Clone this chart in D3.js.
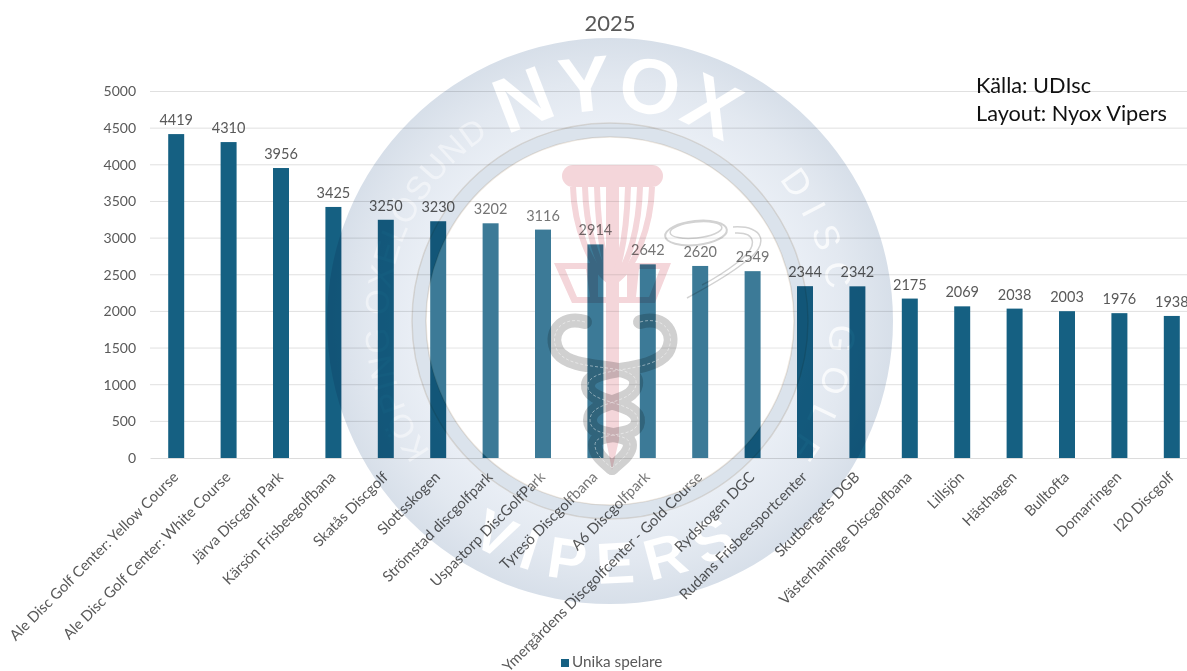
<!DOCTYPE html>
<html><head><meta charset="utf-8">
<script src="https://cdn.jsdelivr.net/npm/d3@7/dist/d3.min.js"></script>
<style>html,body{margin:0;background:#fff;overflow:hidden}svg{display:block}text{font-family:Lato,"Open Sans",sans-serif}</style>
</head><body><svg id="c" width="1187" height="671"></svg>
<script>
const categories=["Ale Disc Golf Center: Yellow Course","Ale Disc Golf Center: White Course","Järva Discgolf Park","Kärsön Frisbeegolfbana","Skatås Discgolf","Slottsskogen","Strömstad discgolfpark","Uspastorp DiscGolfPark","Tyresö Discgolfbana","A6 Discgolfpark","Ymergårdens Discgolfcenter - Gold Course","Rydskogen DGC","Rudans Frisbeesportcenter","Skutbergets DGB","Västerhaninge Discgolfbana","Lillsjön","Hästhagen","Bulltofta","Domarringen","I20 Discgolf"];
const uniquePlayers=[4419,4310,3956,3425,3250,3230,3202,3116,2914,2642,2620,2549,2344,2342,2175,2069,2038,2003,1976,1938];
const yTicks=[0,500,1000,1500,2000,2500,3000,3500,4000,4500,5000];
const seriesName="Unika spelare", chartTitle="2025", notes=["Källa: UDIsc","Layout: Nyox Vipers"];

const svg=d3.select("#c");
const x=d3.scaleBand().domain(categories).range([150,1198]).paddingInner(0.695).paddingOuter(0.3475);
const y=d3.scaleLinear().domain([0,5000]).range([458,91.5]);
const grey="#595959";

svg.append("g").selectAll("line").data(yTicks.slice(1)).join("line")
 .attr("x1",150).attr("x2",1187).attr("y1",d=>y(d)).attr("y2",d=>y(d)).attr("stroke","#e0e0e0");
const ya=svg.append("g").attr("transform","translate(150,0)").call(d3.axisLeft(y).tickValues(yTicks).tickSize(0).tickPadding(14).tickFormat(d3.format("d")));
ya.select(".domain").remove();
ya.selectAll("text").attr("fill",grey).style("font-size","14px").style("font-family","Lato");

svg.append("g").selectAll("rect").data(uniquePlayers).join("rect")
 .attr("x",(d,i)=>x(categories[i])).attr("width",x.bandwidth())
 .attr("y",d=>y(d)).attr("height",d=>y(0)-y(d)).attr("fill","#156082");
svg.append("g").selectAll("text").data(uniquePlayers).join("text")
 .attr("x",(d,i)=>x(categories[i])+x.bandwidth()/2).attr("y",d=>y(d)-9)
 .attr("text-anchor","middle").attr("fill",grey).style("font-size","14.5px").text(d=>d);

const xa=svg.append("g").attr("transform","translate(0,458)").call(d3.axisBottom(x).tickSize(0).tickPadding(0));
xa.select(".domain").attr("stroke","#dcdcdc");
xa.selectAll("text").attr("fill",grey).attr("text-anchor","end").attr("dy",0).attr("y",0)
 .attr("transform","translate(3,20) rotate(-45)").style("font-size","14.8px").style("font-family","Lato");

svg.append("text").attr("x",610).attr("y",31).attr("text-anchor","middle").attr("fill",grey).style("font-size","22px").text(chartTitle);
svg.append("g").selectAll("text").data(notes).join("text").attr("x",976).attr("y",(d,i)=>93+i*28)
 .attr("fill","#111").style("font-size","21.7px").text(d=>d);
svg.append("rect").attr("x",561).attr("y",659).attr("width",8).attr("height",8).attr("fill","#156082");
svg.append("text").attr("x",572).attr("y",667).attr("fill",grey).style("font-size","15.3px").text(seriesName);

/* watermark logo drawn over the chart */
const cx=610,cy=321;
const defs=svg.append("defs");
const g=defs.append("radialGradient").attr("id","rg").attr("gradientUnits","userSpaceOnUse").attr("cx",0).attr("cy",0).attr("r",283);
[[0.65,"#dbe3ec"],[0.698,"#dbe3ec"],[0.702,"#e9eef5"],[0.85,"#e2e8f0"],[1,"#d7dfe9"]].forEach(s=>g.append("stop").attr("offset",s[0]).attr("stop-color",s[1]));
const pol=(r,a)=>[cx+r*Math.sin(a*Math.PI/180),cy-r*Math.cos(a*Math.PI/180)];
function arc(id,r,a0,a1){const p0=pol(r,a0),p1=pol(r,a1),large=Math.abs(a1-a0)>180?1:0,sw=a1>a0?1:0;
 defs.append("path").attr("id",id).attr("d",`M${p0}A${r},${r} 0 ${large} ${sw} ${p1}`);}
arc("aTop",211,-90,94);arc("aBot",262,270,90);arc("aLeft",222,234,345);arc("aRight",220,50,140);

/* the white lettering is a cut-out of the ring, so the chart shows through it */
const mask=defs.append("mask").attr("id","ringCut").attr("maskUnits","userSpaceOnUse").attr("x",0).attr("y",0).attr("width",1187).attr("height",671);
mask.append("rect").attr("width",1187).attr("height",671).attr("fill","#fff");
function ringText(id,str,size,weight,sp,off,anchor,tone){
 mask.append("text").attr("fill",tone).style("font-family","'Liberation Sans'").style("font-size",size+"px").style("font-weight",weight).style("letter-spacing",sp+"px")
  .append("textPath").attr("href","#"+id).attr("startOffset",off).attr("text-anchor",anchor).text(str);
}
ringText("aTop","NYOX",78,700,2,"50%","middle","#000");
ringText("aBot","VIPERS",58,700,14,"50%","middle","#000");
ringText("aLeft","KÖPING OXELÖSUND",33,400,1,"0%","start","#8c8c8c");
ringText("aRight","DISC GOLF",36,400,12,"0%","start","#404040");

const w=svg.append("g").attr("class","watermark");
w.append("circle").attr("cx",cx).attr("cy",cy).attr("r",184).attr("fill","#fff").attr("opacity",0.17);
w.append("g").attr("mask","url(#ringCut)").style("mix-blend-mode","multiply").append("path").attr("fill","url(#rg)")
 .attr("d",d3.arc().innerRadius(184).outerRadius(283).startAngle(0).endAngle(2*Math.PI)()).attr("transform",`translate(${cx},${cy})`);
[184,198].forEach(r=>w.append("circle").attr("cx",cx).attr("cy",cy).attr("r",r).attr("fill","none").attr("stroke","#efe8e0").attr("stroke-width",1.5).style("mix-blend-mode","multiply"));

const red=w.append("g").attr("fill","#f4d6da").style("mix-blend-mode","multiply");
red.append("rect").attr("x",562).attr("y",165).attr("width",101).attr("height",22).attr("rx",11);
red.append("path").attr("d","M554 263H671L655 303H572Z M565 269L577 297H590L586 269Z M598 269V297H606V269Z M619 269V297H627V269Z M639 269L636 297H649L660 269Z").attr("fill-rule","evenodd");
red.append("path").attr("d","M606 187H619V440L612 470L606 440Z");
red.append("g").attr("fill","none").attr("stroke","#f4d6da").attr("stroke-width",6)
 .selectAll("path").data(["M573 187C574 225 590 270 612 283","M585 187C586 225 596 265 612 283","M597 187C598 225 603 260 612 283","M628 187C627 225 622 260 612 283","M640 187C639 225 630 265 612 283","M652 187C651 225 636 270 612 283"]).join("path").attr("d",d=>d);

const snakes=["M585 322C560 315 548 335 558 352C575 375 640 360 636 385C632 405 590 400 590 420C590 440 630 430 630 445C630 455 618 462 612 468","M640 322C665 315 677 335 667 352C650 375 590 365 588 385C586 405 640 400 638 422C636 440 595 430 595 445C595 455 605 462 612 468"];
const sn=w.append("g").attr("fill","none").attr("stroke","#6e6e6e").attr("stroke-width",14).attr("opacity",0.33).attr("stroke-linecap","round").style("mix-blend-mode","multiply");
snakes.forEach(d=>sn.append("path").attr("d",d));
const sl=w.append("g").attr("fill","none").attr("stroke","#fff").attr("stroke-width",1).attr("stroke-dasharray","3 2").attr("opacity",0.45);
snakes.forEach(d=>sl.append("path").attr("d",d));

const d1=w.append("g").attr("fill","none").attr("stroke","#d2d2d2").style("mix-blend-mode","multiply");
d1.append("ellipse").attr("cx",696).attr("cy",233).attr("rx",31).attr("ry",12).attr("stroke-width",2).attr("transform","rotate(-6 696 233)");
d1.append("ellipse").attr("cx",696).attr("cy",230).attr("rx",26).attr("ry",8).attr("stroke-width",1.5).attr("transform","rotate(-6 696 230)");
d1.append("path").attr("stroke-width",1.5).attr("d","M733 227C765 225 770 245 745 262C725 278 705 288 687 298");
d1.append("path").attr("stroke-width",1.5).attr("d","M735 233C755 232 760 245 738 262C725 272 712 280 702 285");
</script></body></html>
